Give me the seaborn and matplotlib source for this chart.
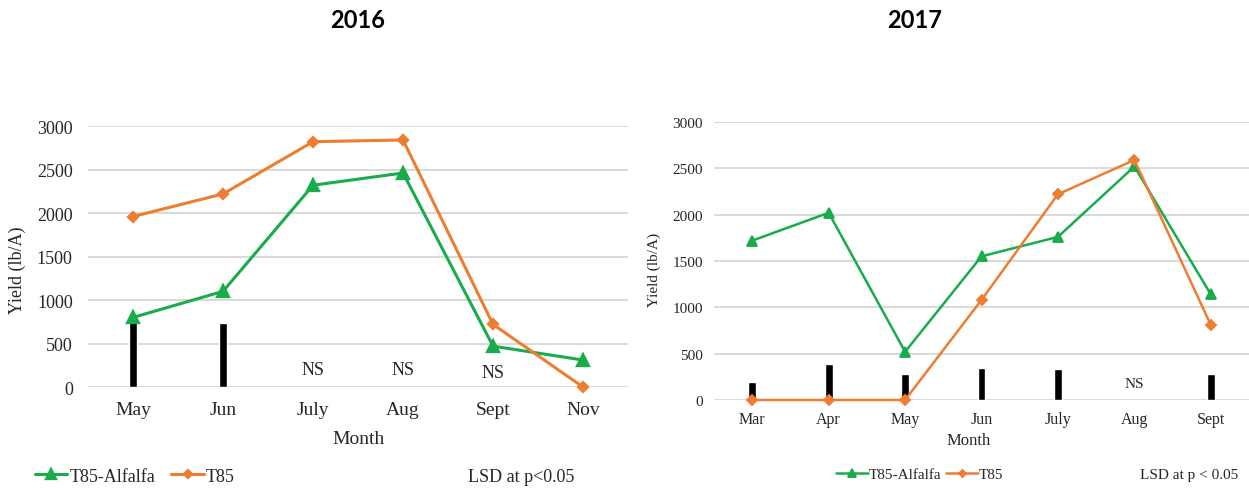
import matplotlib.pyplot as plt
import numpy as np
import pandas as pd
import seaborn as sns

SERIES = ["T85-Alfalfa", "T85"]
COLORS = {"T85-Alfalfa": "#1aab4b", "T85": "#ed7d31"}
MARKERS = ["^", "D"]

MONTHS_2016 = ["May", "Jun", "July", "Aug", "Sept", "Nov"]
ALFALFA_2016 = [800, 1100, 2320, 2460, 470, 310]
T85_2016 = [1960, 2220, 2820, 2840, 720, 0]
LSD_2016 = [790, 740, np.nan, np.nan, np.nan, np.nan]
NS_2016 = ["", "", "NS", "NS", "NS", ""]

MONTHS_2017 = ["Mar", "Apr", "May", "Jun", "July", "Aug", "Sept"]
ALFALFA_2017 = [1720, 2020, 520, 1550, 1760, 2520, 1140]
T85_2017 = [0, 0, 0, 1080, 2220, 2590, 810]
LSD_2017 = [190, 390, 280, 350, 330, np.nan, 280]
NS_2017 = ["", "", "", "", "", "NS", ""]

YTICKS = [0, 500, 1000, 1500, 2000, 2500, 3000]

sns.set_theme(style="white")
plt.rcParams["font.family"] = ["Liberation Serif", "DejaVu Serif"]
plt.rcParams["text.color"] = "#262626"


def long_frame(months, alfalfa, t85):
    return pd.DataFrame({
        "Month": months * 2,
        "Yield": alfalfa + t85,
        "series": [SERIES[0]] * len(months) + [SERIES[1]] * len(months),
    })


def draw_panel(ax, months, alfalfa, t85, lsd, ns, st):
    bars = pd.DataFrame({"Month": months, "LSD": lsd})
    sns.barplot(data=bars, x="Month", y="LSD", order=months, color="black",
                width=st["bar_w"], errorbar=None, ax=ax, zorder=2)
    sns.pointplot(data=long_frame(months, alfalfa, t85), x="Month", y="Yield",
                  hue="series", order=months, hue_order=SERIES, palette=COLORS,
                  markers=MARKERS, linestyles="-", errorbar=None, ax=ax,
                  linewidth=st["lw"], markersize=st["ms"], legend=True)
    for line in ax.lines:
        line.set_clip_on(False)
        line.set_zorder(3)
        if line.get_marker() == "D":
            line.set_markersize(st["ms"] * 0.7)

    for i, txt in enumerate(ns):
        if txt:
            ax.text(i, st["ns_y"] if i != 4 else st["ns_y"] - 30, txt,
                    ha="center", va="center", fontsize=st["ns_fs"])

    ax.set_ylim(0, 3000)
    ax.set_xlim(-0.5, len(months) - 0.5)
    ax.set_yticks(YTICKS)
    ax.yaxis.grid(True, color="#d9d9d9", lw=1.4)
    ax.set_axisbelow(True)
    sns.despine(ax=ax, left=True, bottom=True)
    ax.tick_params(axis="y", length=0, pad=st["ypad"], labelsize=st["ytick_fs"])
    ax.tick_params(axis="x", length=0, pad=st["xpad"], labelsize=st["xtick_fs"])
    ax.set_xlabel("Month", fontsize=st["xlab_fs"])
    ax.xaxis.set_label_coords(st["xlab_x"], st["xlab_y"])
    ax.set_ylabel("Yield (lb/A)", fontsize=st["ylab_fs"])
    ax.yaxis.set_label_coords(st["ylab_x"], st["ylab_y"])


def place_legend(ax, fig, anchor, fs, hl, ctp, cs, ms):
    sns.move_legend(ax, loc="center left", bbox_to_anchor=anchor,
                    bbox_transform=fig.transFigure, ncol=2, frameon=False,
                    title=None, fontsize=fs, handlelength=hl, handletextpad=ctp,
                    columnspacing=cs, borderpad=0, borderaxespad=0)
    for h in ax.get_legend().legend_handles:
        h.set_markersize(ms * 0.6 if h.get_marker() == "D" else ms)


fig = plt.figure(figsize=(12.49, 4.89), dpi=100)
ax1 = fig.add_axes([0.0705, 0.2065, 0.4323, 0.5337])
ax2 = fig.add_axes([0.5717, 0.18, 0.4283, 0.5685])

style_2016 = dict(bar_w=0.085, lw=2.2, ms=8, ns_y=200, ns_fs=13, ypad=11,
                  xpad=10, ytick_fs=13, xtick_fs=14, xlab_fs=14, xlab_x=0.5,
                  xlab_y=-0.165, ylab_fs=13, ylab_x=-0.115, ylab_y=0.45)
style_2017 = dict(bar_w=0.1, lw=1.8, ms=7, ns_y=175, ns_fs=11, ypad=8,
                  xpad=8, ytick_fs=11, xtick_fs=11.5, xlab_fs=12, xlab_x=0.475,
                  xlab_y=-0.115, ylab_fs=11, ylab_x=-0.10, ylab_y=0.47)

draw_panel(ax1, MONTHS_2016, ALFALFA_2016, T85_2016, LSD_2016, NS_2016, style_2016)
draw_panel(ax2, MONTHS_2017, ALFALFA_2017, T85_2017, LSD_2017, NS_2017, style_2017)

place_legend(ax1, fig, (0.028, 0.0245), 13, 1.8, 0.1, 0.9, 7)
place_legend(ax2, fig, (0.669, 0.0286), 11, 2.1, 0.05, 0.3, 6)

fig.text(0.3747, 0.0245, "LSD at p<0.05", ha="left", va="center", fontsize=13)
fig.text(0.9127, 0.0286, "LSD at p < 0.05", ha="left", va="center", fontsize=11)

fig.text(358 / 1249, 1 - 20 / 489, "2016", ha="center", va="center",
         fontsize=17, fontweight="bold", family=["Lato", "DejaVu Sans"], color="black")
fig.text(915 / 1249, 1 - 20 / 489, "2017", ha="center", va="center",
         fontsize=17, fontweight="bold", family=["Lato", "DejaVu Sans"], color="black")

fig.savefig("out.png", dpi=100)
